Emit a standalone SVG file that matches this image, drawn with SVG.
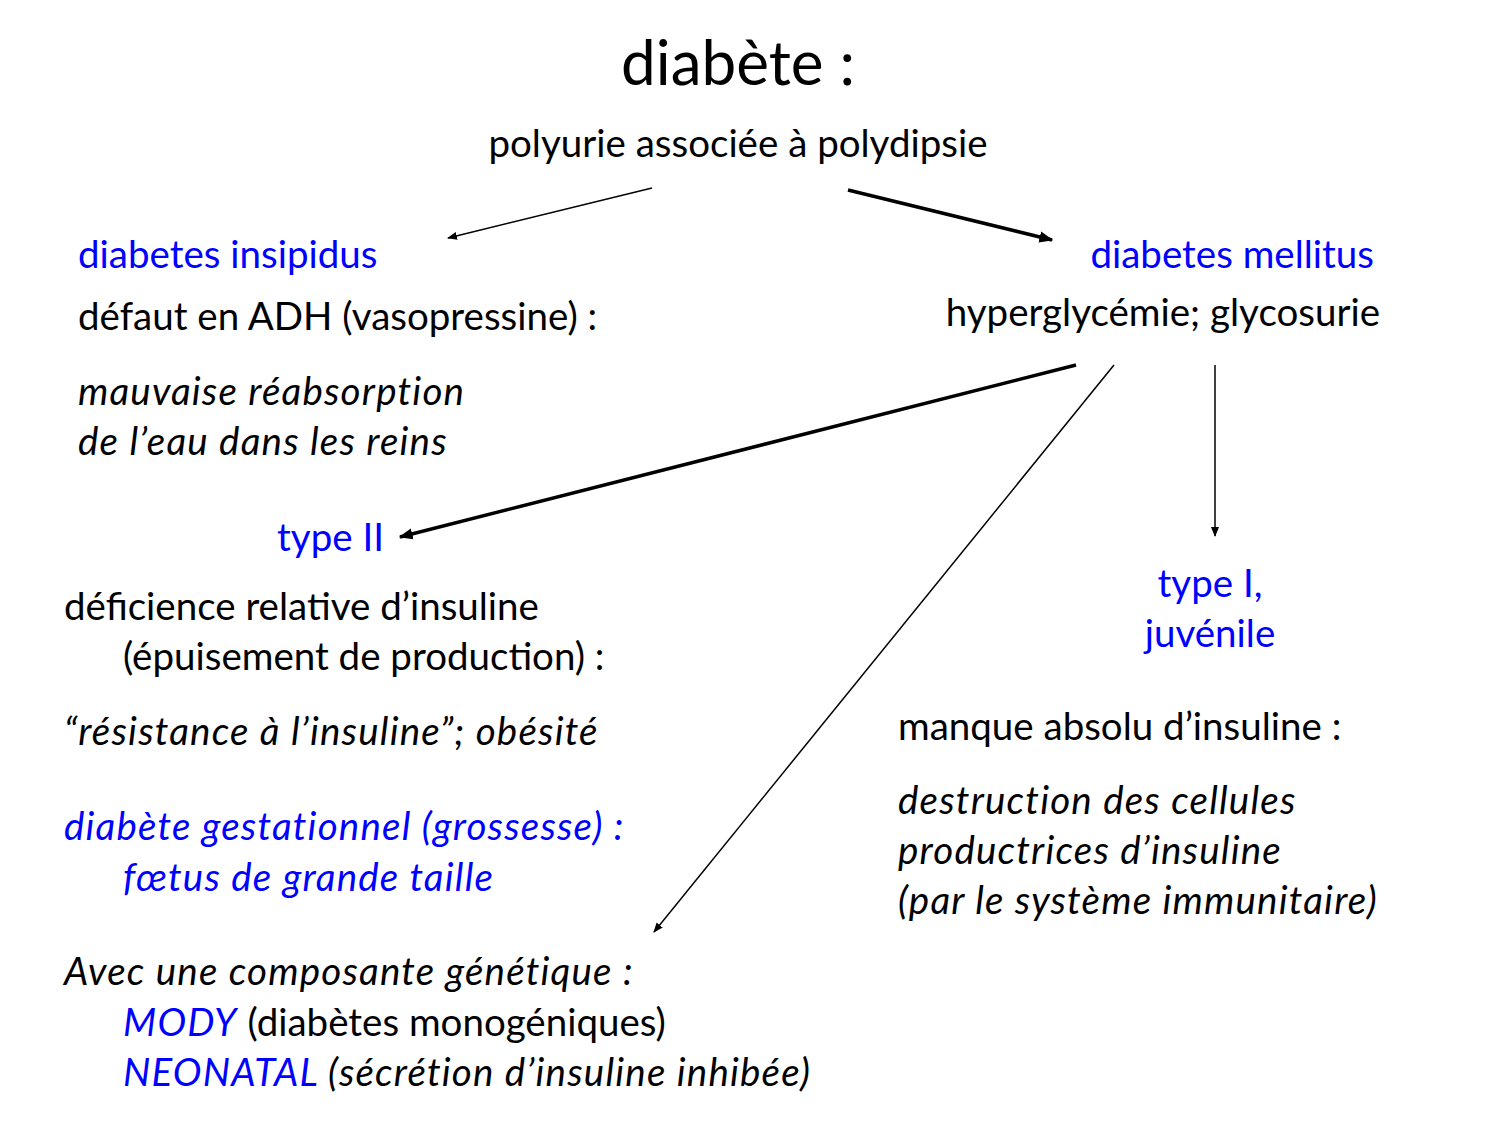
<svg xmlns="http://www.w3.org/2000/svg" width="1500" height="1125" viewBox="0 0 1500 1125">
<style>
text{font-family:Lato,"Liberation Sans",sans-serif;font-size:38.5px;fill:#000}
.b{fill:#0000ff}.i{font-style:italic;letter-spacing:1.2px}
.thin{stroke:#000;stroke-width:1.5;fill:none}
.thick{stroke:#000;stroke-width:3.5;fill:none}
</style>
<defs>
<marker id="a" viewBox="0 0 10 10" refX="9" refY="5" markerWidth="10" markerHeight="10" markerUnits="userSpaceOnUse" orient="auto"><path d="M0,1 L10,5 L0,9 z" fill="#000"/></marker>
<marker id="A" viewBox="0 0 10 10" refX="9" refY="5" markerWidth="14" markerHeight="14" markerUnits="userSpaceOnUse" orient="auto"><path d="M0,1 L10,5 L0,9 z" fill="#000"/></marker>
</defs>
<rect width="1500" height="1125" fill="#fff"/>
<g id="title"><text x="738" y="85" text-anchor="middle" style="font-size:62px">diabète :</text>
<text x="738" y="157" text-anchor="middle">polyurie associée à polydipsie</text></g>
<g id="insipidus"><text x="78" y="268" class="b">diabetes insipidus</text>
<text x="78" y="330">défaut en ADH (vasopressine) :</text>
<text x="78" y="405" class="i">mauvaise réabsorption</text>
<text x="78" y="455" class="i">de l’eau dans les reins</text></g>
<g id="mellitus"><text x="1374" y="268" text-anchor="end" class="b">diabetes mellitus</text>
<text x="1380" y="326" text-anchor="end">hyperglycémie; glycosurie</text></g>
<g id="type2"><text x="277" y="551" class="b">type II</text>
<text x="64" y="620">déficience relative d’insuline</text>
<text x="123" y="670">(épuisement de production) :</text>
<text x="64" y="745" class="i">“résistance à l’insuline”; obésité</text>
<text x="64" y="840" class="b i">diabète gestationnel (grossesse) :</text>
<text x="123" y="891" class="b i">fœtus de grande taille</text></g>
<g id="genetic"><text x="64" y="985" class="i">Avec une composante génétique :</text>
<text x="123" y="1036"><tspan class="b i">MODY</tspan> (diabètes monogéniques)</text>
<text x="123" y="1086" class="i"><tspan class="b">NEONATAL</tspan> (sécrétion d’insuline inhibée)</text></g>
<g id="type1"><text x="1210" y="597" text-anchor="middle" class="b">type I,</text>
<text x="1210" y="647" text-anchor="middle" class="b">juvénile</text>
<text x="898" y="740">manque absolu d’insuline :</text>
<text x="898" y="814" class="i">destruction des cellules</text>
<text x="898" y="864" class="i">productrices d’insuline</text>
<text x="898" y="914" class="i">(par le système immunitaire)</text></g>
<g id="connectors">
<line class="thin" x1="652" y1="188" x2="448" y2="238" marker-end="url(#a)"/>
<line class="thick" x1="848" y1="190" x2="1052" y2="240" marker-end="url(#A)"/>
<line class="thick" x1="1076" y1="365" x2="400" y2="537" marker-end="url(#A)"/>
<line class="thin" x1="1114" y1="365" x2="654" y2="932" marker-end="url(#a)"/>
<line class="thin" x1="1215" y1="365" x2="1215" y2="536" marker-end="url(#a)"/>
</g>
</svg>
